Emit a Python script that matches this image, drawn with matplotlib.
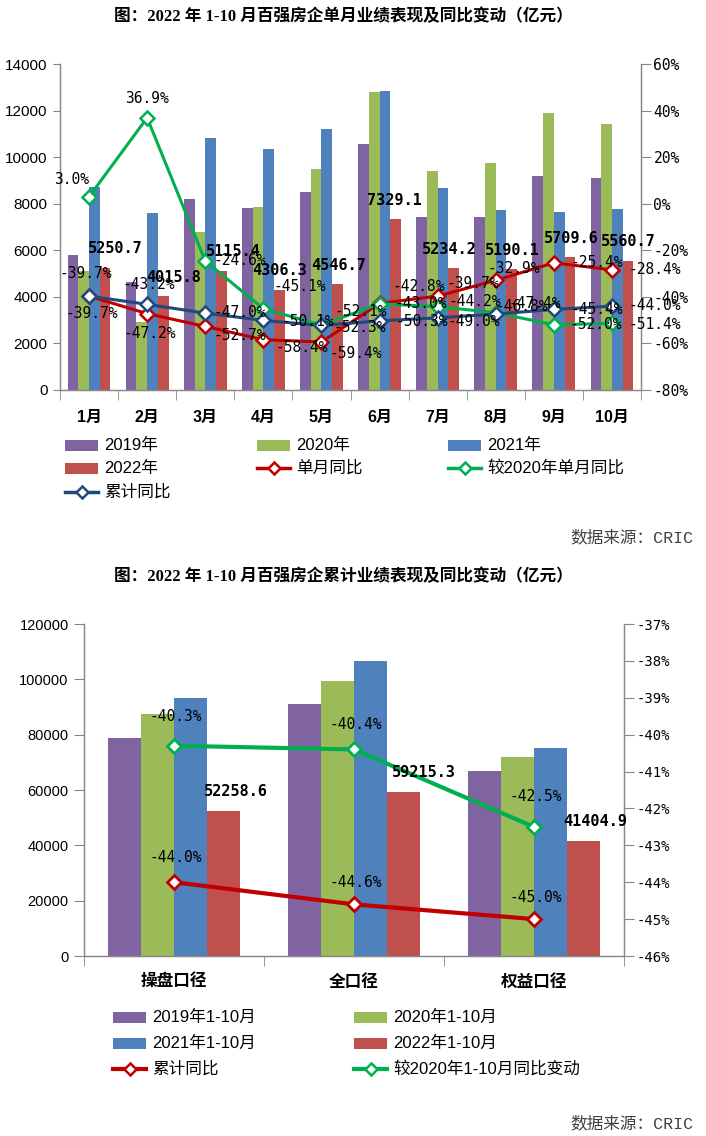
import numpy as np
import matplotlib
matplotlib.use('Agg')
import matplotlib.pyplot as plt
from matplotlib import font_manager
from matplotlib.patches import Rectangle
from matplotlib.lines import Line2D

# ---------------- data: chart 1 (monthly) ----------------
months = ['1月', '2月', '3月', '4月', '5月', '6月', '7月', '8月', '9月', '10月']
y2019 = [5800, 4640, 8200, 7800, 8500, 10550, 7450, 7450, 9200, 9100]
y2020 = [5100, 2930, 6780, 7840, 9490, 12800, 9400, 9750, 11880, 11420]
y2021 = [8700, 7600, 10820, 10350, 11200, 12820, 8680, 7735, 7655, 7766]
y2022 = [5250.7, 4015.8, 5115.4, 4306.3, 4546.7, 7329.1, 5234.2, 5190.1, 5709.6, 5560.7]
single_yoy = [-39.7, -47.2, -52.7, -58.4, -59.4, -42.8, -39.7, -32.9, -25.4, -28.4]
vs2020_yoy = [3.0, 36.9, -24.6, -45.1, -52.1, -43.0, -44.2, -46.8, -52.0, -51.4]
cum_yoy = [-39.7, -43.2, -47.0, -50.1, -52.3, -50.3, -49.0, -47.4, -45.4, -44.0]

# ---------------- data: chart 2 (cumulative) ----------------
scopes = ['操盘口径', '全口径', '权益口径']
c2019 = [78800, 91000, 66900]
c2020 = [87500, 99400, 72000]
c2021 = [93300, 106800, 75300]
c2022 = [52258.6, 59215.3, 41404.9]
c_cum_yoy = [-44.0, -44.6, -45.0]
c_vs2020 = [-40.3, -40.4, -42.5]

# ---------------- style ----------------
W, H = 706, 1136
fig = plt.figure(figsize=(W / 100, H / 100), dpi=100)


def has_font(name):
    try:
        font_manager.findfont(font_manager.FontProperties(family=name),
                              fallback_to_default=False)
        return True
    except Exception:
        return False


CJK = 'Noto Sans CJK SC'
NARROW = 'Liberation Sans Narrow' if has_font('Liberation Sans Narrow') else 'Liberation Sans'
SANS = 'Liberation Sans'
MONO = 'DejaVu Sans Mono'

C19, C20, C21, C22 = '#8064A2', '#9BBB59', '#4F81BD', '#C0504D'
RED, GREEN, NAVY = '#C00000', '#00B050', '#1F497D'
SPINE = '#888888'


def fx(x):
    return x / W


def fy(y):
    return 1 - y / H


def style_axes(ax, ax2):
    for a in (ax, ax2):
        a.spines['top'].set_visible(False)
        for s in ('left', 'right', 'bottom'):
            a.spines[s].set_color(SPINE)
            a.spines[s].set_linewidth(0.9)
        a.patch.set_visible(False)


# =============== chart 1 =================
ax = fig.add_axes([fx(60), fy(390), fx(641) - fx(60), (390 - 64) / H])
x = np.arange(len(months))
bw = 0.184
for k, (vals, c) in enumerate([(y2019, C19), (y2020, C20), (y2021, C21), (y2022, C22)]):
    ax.bar(x + (k - 1.5) * bw, vals, bw, color=c, linewidth=0, zorder=2)
ax.set_xlim(-0.5, len(months) - 0.5)
ax.set_ylim(0, 14000)
ax.set_yticks(range(0, 14001, 2000))
ax.set_yticklabels([str(v) for v in range(0, 14001, 2000)], family=[SANS], fontsize=11)
ax.set_xticks(x)
ax.set_xticklabels(months, family=[SANS, CJK], fontweight='bold', fontsize=11.5)
ax.set_xticks(np.arange(-0.5, len(months), 1), minor=True)
ax.tick_params(axis='x', which='major', length=0, pad=14)
ax.tick_params(axis='x', which='minor', length=7, color=SPINE, direction='out')
ax.tick_params(axis='y', length=5, color=SPINE, pad=4)

ax2 = ax.twinx()
ax2.set_ylim(-80, 60)
ax2.set_yticks(range(-80, 61, 20))
ax2.set_yticklabels([f'{v}%' for v in range(-80, 61, 20)], family=[MONO], fontsize=10.5)
ax2.tick_params(axis='y', length=7, color=SPINE, pad=2)
style_axes(ax, ax2)

mk = dict(marker='D', markersize=7, markerfacecolor='white', markeredgewidth=1.8)
ax2.plot(x, single_yoy, color=RED, lw=2.2, markeredgecolor=RED, zorder=3, **mk)
ax2.plot(x, vs2020_yoy, color=GREEN, lw=2.2, markeredgecolor=GREEN, zorder=3, **mk)
ax2.plot(x, cum_yoy, color=NAVY, lw=2.2, markeredgecolor=NAVY, zorder=3, **mk)

# label offsets in pixels (dx, dy downward)
off_red = [(3, 17), (3, 20), (35, 9), (38, 8), (34, 11), (39, -17), (35, -13), (18, -12), (43, 0), (43, 0)]
off_green = [(-17, -17), (0, -19), (35, 0), (36, -22), (39, -14), (41, 0), (37, -5), (26, -6), (42, 0), (43, 1)]
off_navy = [(-3, -23), (2, -20), (35, -1), (44, 1), (38, 2), (42, 1), (36, 4), (39, -11), (43, 0), (43, -1)]
lab = dict(textcoords='offset pixels', ha='center', va='center', family=[MONO],
           fontsize=10.5, color='black', zorder=10, annotation_clip=False)
for series, offs in ((single_yoy, off_red), (vs2020_yoy, off_green), (cum_yoy, off_navy)):
    for i, v in enumerate(series):
        ax2.annotate(f'{v:.1f}%', (x[i], v), xytext=(offs[i][0], -offs[i][1]), **lab)

val_dx = [10, 10, 12, 0, 1, -1, -4, 0, 1, 0]
for i, v in enumerate(y2022):
    ax.annotate(f'{v:.1f}', (x[i] + 1.5 * bw, v), xytext=(val_dx[i], 19),
                textcoords='offset pixels', ha='center', va='center', family=[MONO],
                fontweight='bold', fontsize=11, zorder=11, annotation_clip=False)
# bring value labels above ax2 lines: draw them via figure-level copy
for t in list(ax.texts):
    t.remove()
for i, v in enumerate(y2022):
    xp, yp = ax.transData.transform((x[i] + 1.5 * bw, v))
    fig.text(xp / W + val_dx[i] / W, (yp + 19) / H, f'{v:.1f}', ha='center', va='center',
             family=[MONO], fontweight='bold', fontsize=11, zorder=20)

# =============== chart 2 =================
bx = fig.add_axes([fx(84), fy(956), fx(624) - fx(84), (956 - 624) / H])
x2 = np.arange(len(scopes))
bw2 = 0.183
for k, (vals, c) in enumerate([(c2019, C19), (c2020, C20), (c2021, C21), (c2022, C22)]):
    bx.bar(x2 + (k - 1.5) * bw2, vals, bw2, color=c, linewidth=0, zorder=2)
bx.set_xlim(-0.5, len(scopes) - 0.5)
bx.set_ylim(0, 120000)
bx.set_yticks(range(0, 120001, 20000))
bx.set_yticklabels([str(v) for v in range(0, 120001, 20000)], family=[SANS], fontsize=10.5)
bx.set_xticks(x2)
bx.set_xticklabels(scopes, family=[CJK], fontweight='bold', fontsize=12)
bx.set_xticks(np.arange(-0.5, len(scopes), 1), minor=True)
bx.tick_params(axis='x', which='major', length=0, pad=12)
bx.tick_params(axis='x', which='minor', length=7, color=SPINE, direction='out')
bx.tick_params(axis='y', length=7, color=SPINE, pad=4)

bx2 = bx.twinx()
bx2.set_ylim(-46, -37)
bx2.set_yticks(range(-46, -36, 1))
bx2.set_yticklabels([f'{v}%' for v in range(-46, -36, 1)], family=[MONO], fontsize=10)
bx2.tick_params(axis='y', length=7, color=SPINE, pad=2)
style_axes(bx, bx2)

mk2 = dict(marker='D', markersize=7.5, markerfacecolor='white', markeredgewidth=2)
bx2.plot(x2, c_cum_yoy, color=RED, lw=3, markeredgecolor=RED, zorder=3, **mk2)
bx2.plot(x2, c_vs2020, color=GREEN, lw=3, markeredgecolor=GREEN, zorder=3, **mk2)

red_dy = [25, 22, 22]
green_dy = [29, 25, 30]
for i in range(len(scopes)):
    bx2.annotate(f'{c_cum_yoy[i]:.1f}%', (x2[i], c_cum_yoy[i]), xytext=(2, red_dy[i]), **lab)
    bx2.annotate(f'{c_vs2020[i]:.1f}%', (x2[i], c_vs2020[i]), xytext=(2, green_dy[i]), **lab)

val2_dx = [12, 20, 12]
for i, v in enumerate(c2022):
    xp, yp = bx.transData.transform((x2[i] + 1.5 * bw2, v))
    fig.text(xp / W + val2_dx[i] / W, (yp + 20) / H, f'{v:.1f}', ha='center', va='center',
             family=[MONO], fontweight='bold', fontsize=11, zorder=20)

# =============== titles & sources =================
TFONT = ['Liberation Serif', CJK]
fig.text(fx(343), fy(17), '图：2022 年 1-10 月百强房企单月业绩表现及同比变动（亿元）',
         ha='center', va='center', family=TFONT, fontweight='bold', fontsize=12)
fig.text(fx(343), fy(577), '图：2022 年 1-10 月百强房企累计业绩表现及同比变动（亿元）',
         ha='center', va='center', family=TFONT, fontweight='bold', fontsize=12)
SRC = ['Liberation Mono', CJK]
fig.text(fx(693), fy(537), '数据来源：CRIC', ha='right', va='center', family=SRC,
         fontsize=12, color='#404040')
fig.text(fx(693), fy(1123), '数据来源：CRIC', ha='right', va='center', family=SRC,
         fontsize=12, color='#404040')


# =============== legends (manual) =================
def legend_patch(x0, yc, color, label):
    fig.add_artist(Rectangle((fx(x0), fy(yc + 5.5)), 33 / W, 11 / H, transform=fig.transFigure,
                             facecolor=color, edgecolor='none'))
    fig.text(fx(x0 + 39), fy(yc), label, ha='left', va='center', family=[NARROW, CJK],
             fontsize=12)


def legend_line(x0, yc, color, label, lw=2.5):
    fig.add_artist(Line2D([fx(x0), fx(x0 + 33)], [fy(yc), fy(yc)], transform=fig.transFigure,
                          color=color, lw=lw))
    fig.add_artist(Line2D([fx(x0 + 16.5)], [fy(yc)], transform=fig.transFigure, color=color,
                          marker='D', markersize=6.5, markerfacecolor='white',
                          markeredgecolor=color, markeredgewidth=1.8, linestyle='none'))
    fig.text(fx(x0 + 39), fy(yc), label, ha='left', va='center', family=[NARROW, CJK],
             fontsize=12)


cols1 = [65, 257, 448]
rows1 = [445, 468, 492]
legend_patch(cols1[0], rows1[0], C19, '2019年')
legend_patch(cols1[1], rows1[0], C20, '2020年')
legend_patch(cols1[2], rows1[0], C21, '2021年')
legend_patch(cols1[0], rows1[1], C22, '2022年')
legend_line(cols1[1], rows1[1], RED, '单月同比')
legend_line(cols1[2], rows1[1], GREEN, '较2020年单月同比')
legend_line(cols1[0], rows1[2], NAVY, '累计同比')

cols2 = [113, 354]
rows2 = [1017, 1043, 1069]
legend_patch(cols2[0], rows2[0], C19, '2019年1-10月')
legend_patch(cols2[1], rows2[0], C20, '2020年1-10月')
legend_patch(cols2[0], rows2[1], C21, '2021年1-10月')
legend_patch(cols2[1], rows2[1], C22, '2022年1-10月')
legend_line(cols2[0], rows2[2], RED, '累计同比', lw=3)
legend_line(cols2[1], rows2[2], GREEN, '较2020年1-10月同比变动', lw=3)

fig.savefig('out.png', dpi=100, facecolor='white')
